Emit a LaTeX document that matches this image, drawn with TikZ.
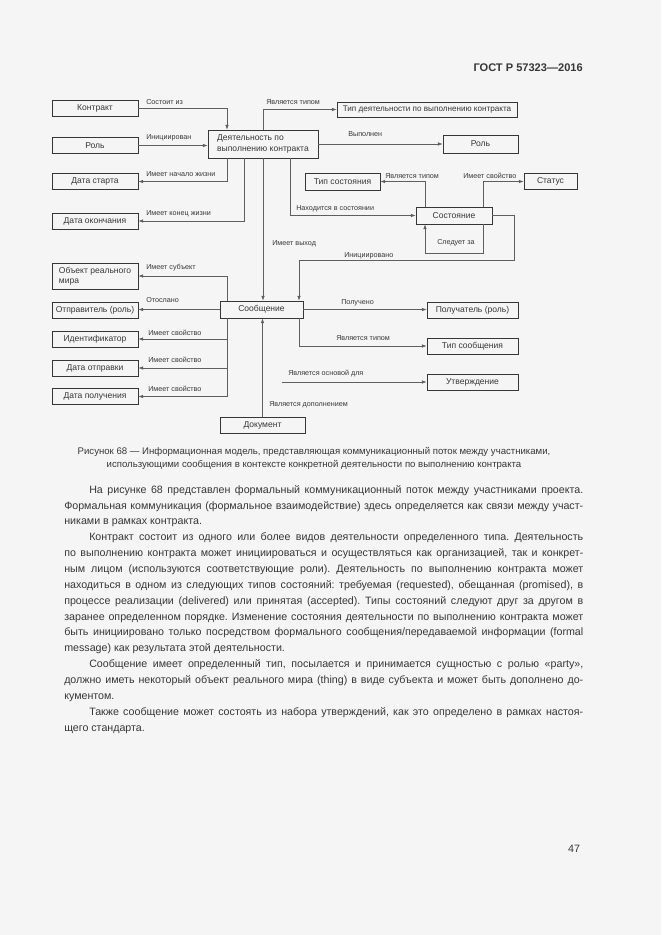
\documentclass[tikz,border=0pt]{standalone}
\usepackage{fontspec}
\setmainfont{Liberation Sans}
\usetikzlibrary{arrows.meta}
\definecolor{paper}{RGB}{245,245,245}
\definecolor{ink}{RGB}{55,55,55}
\definecolor{wire}{RGB}{95,95,95}
\frenchspacing
\tikzset{
  box/.style={draw=ink, line width=0.6pt, text=ink, inner sep=0pt, font=\fontsize{6.4}{7.7}\selectfont},
  lbox/.style={box, minimum width=64.5pt, minimum height=12pt},
  rbox/.style={box, minimum width=68.25pt, minimum height=12pt},
  link/.style={draw=wire, line width=0.45pt, -{Latex[length=3.5pt,width=2.6pt]}},
  lbl/.style={anchor=west, inner sep=0pt, text=ink, font=\fontsize{5.4}{6.4}\selectfont},
  txt/.style={inner sep=0pt, text=ink},
}
\begin{document}
\begin{tikzpicture}[x=0.75pt,y=0.75pt,yscale=-1,xscale=1]
        \fill[paper] (0,0) rectangle (661,935);
        \useasboundingbox (0,0) rectangle (661,935);
        % page head
        \node[txt, anchor=east, font=\fontsize{8.3}{10}\selectfont\bfseries] (gost) at (583,68) {ГОСТ Р 57323—2016};
        % columns and rows for the bends
        \coordinate (c1) at (227,0);
        \coordinate (c2) at (244,0);
        \coordinate (c3) at (263,0);
        \coordinate (c4) at (290,0);
        \coordinate (c5) at (299,0);
        \coordinate (c6) at (425,0);
        \coordinate (c7) at (483,0);
        \coordinate (c8) at (514,0);
        \coordinate (r1) at (0,253);
        \coordinate (r2) at (0,260);
        \coordinate (osn) at (282,382);
        % boxes
        \node[lbox] (kontrakt) at (95,108) {Контракт};
        \node[lbox] (rolL) at (95,145.5) {Роль};
        \node[lbox] (start) at (95,181.5) {Дата старта};
        \node[lbox] (konets) at (95,221) {Дата окончания};
        \node[lbox, minimum height=19.5pt, align=left] (obj) at (95,276) {Объект реального\\мира};
        \node[lbox] (otpr) at (95,310) {Отправитель (роль)};
        \node[lbox] (ident) at (95,339) {Идентификатор};
        \node[lbox] (otpravka) at (95,368) {Дата отправки};
        \node[lbox] (poluchenie) at (95,396.5) {Дата получения};
        \node[box, minimum width=82.5pt, minimum height=21pt, align=left] (dejat) at (263,144) {Деятельность по\\выполнению контракта};
        \node[box, minimum width=135pt, minimum height=11.25pt, font=\fontsize{6.1}{7.3}\selectfont] (tipdejat) at (427,109.5) {Тип деятельности по выполнению контракта};
        \node[box, minimum width=56.25pt, minimum height=13.5pt] (rolR) at (480.5,144) {Роль};
        \node[box, minimum width=56.25pt, minimum height=12.75pt] (tipsost) at (342.5,181.5) {Тип состояния};
        \node[box, minimum width=39.75pt, minimum height=12pt] (status) at (550.5,181.5) {Статус};
        \node[box, minimum width=57pt, minimum height=12.75pt] (sost) at (454,215.5) {Состояние};
        \node[box, minimum width=62.25pt, minimum height=12.75pt] (soob) at (261.5,309.5) {Сообщение};
        \node[box, minimum width=63.75pt, minimum height=12pt] (dokument) at (262.5,425) {Документ};
        \node[rbox] (poluch) at (472.5,310) {Получатель (роль)};
        \node[rbox] (tipsoob) at (472.5,346) {Тип сообщения};
        \node[rbox] (utv) at (472.5,382) {Утверждение};
        % connectors
        \draw[link] (kontrakt.east) -| (c1 |- dejat.north);
        \draw[link] (rolL.east) -- (rolL.east -| dejat.west);
        \draw[link] (c1 |- dejat.south) |- (start.east);
        \draw[link] (c2 |- dejat.south) |- (konets.east);
        \draw[link] (c3 |- dejat.north) |- (tipdejat.west);
        \draw[link] (c3 |- dejat.south) -- (c3 |- soob.north);
        \draw[link] (dejat.east) -- (dejat.east -| rolR.west);
        \draw[link] (c4 |- dejat.south) |- (sost.west);
        \draw[link] (c6 |- sost.north) |- (tipsost.east);
        \draw[link] (c7 |- sost.north) |- (status.west);
        \draw[link] (c7 |- sost.south) -- (c7 |- r1) -| (c6 |- sost.south);
        \draw[link] (sost.east) -| (c8 |- r2) -| (c5 |- soob.north);
        \draw[link] (c1 |- soob.north) |- (obj.east);
        \draw[link] (soob.west) -- (soob.west -| otpr.east);
        \draw[link] (c1 |- soob.south) |- (ident.east);
        \draw[link] (c1 |- soob.south) |- (otpravka.east);
        \draw[link] (c1 |- soob.south) |- (poluchenie.east);
        \draw[link] (dokument.north) -- (dokument.north |- soob.south);
        \draw[link] (soob.east) -- (soob.east -| poluch.west);
        \draw[link] (c5 |- soob.south) |- (tipsoob.west);
        \draw[link] (osn) -- (utv.west);
        % connector labels
        \node[lbl] (l1) at (146,102) {Состоит из};
        \node[lbl] (l2) at (146,138) {Инициирован};
        \node[lbl] (l3) at (146,174) {Имеет начало жизни};
        \node[lbl] (l4) at (146,214) {Имеет конец жизни};
        \node[lbl] (l5) at (266,102) {Является типом};
        \node[lbl] (l6) at (348,134) {Выполнен};
        \node[lbl] (l7) at (385,176) {Является типом};
        \node[lbl] (l8) at (463,176) {Имеет свойство};
        \node[lbl] (l9) at (296,209) {Находится в состоянии};
        \node[lbl] (l10) at (272,244) {Имеет выход};
        \node[lbl] (l11) at (437,243) {Следует за};
        \node[lbl] (l12) at (344,256) {Инициировано};
        \node[lbl] (l13) at (146,268) {Имеет субъект};
        \node[lbl] (l14) at (146,300) {Отослано};
        \node[lbl] (l15) at (148,333) {Имеет свойство};
        \node[lbl] (l16) at (148,360) {Имеет свойство};
        \node[lbl] (l17) at (148,389) {Имеет свойство};
        \node[lbl] (l18) at (341,303) {Получено};
        \node[lbl] (l19) at (336,338) {Является типом};
        \node[lbl] (l20) at (288,374) {Является основой для};
        \node[lbl] (l21) at (269,405) {Является дополнением};
        % caption
        \node[txt, align=center, font=\fontsize{7.2}{9.8}\selectfont] (caption) at (314,458)
          {Рисунок 68 — Информационная модель, представляющая коммуникационный поток между участниками,\\
           использующими сообщения в контексте конкретной деятельности по выполнению контракта};
        % body text
        \node[txt, anchor=north west, text width=389.25pt, align=justify, font=\fontsize{8}{11.9}\selectfont] (body) at (64,485)
          {\hspace*{18.75pt}На рисунке 68 представлен формальный коммуникационный поток между участниками проекта.\linebreak
           Формальная коммуникация (формальное взаимодействие) здесь определяется как связи между участ-\linebreak
           никами в рамках контракта.\\
           \hspace*{18.75pt}Контракт состоит из одного или более видов деятельности определенного типа. Деятельность\linebreak
           по выполнению контракта может инициироваться и осуществляться как организацией, так и конкрет-\linebreak
           ным лицом (используются соответствующие роли). Деятельность по выполнению контракта может\linebreak
           находиться в одном из следующих типов состояний: требуемая (requested), обещанная (promised), в\linebreak
           процессе реализации (delivered) или принятая (accepted). Типы состояний следуют друг за другом в\linebreak
           заранее определенном порядке. Изменение состояния деятельности по выполнению контракта может\linebreak
           быть инициировано только посредством формального сообщения/передаваемой информации (formal\linebreak
           message) как результата этой деятельности.\\
           \hspace*{18.75pt}Сообщение имеет определенный тип, посылается и принимается сущностью с ролью «party»,\linebreak
           должно иметь некоторый объект реального мира (thing) в виде субъекта и может быть дополнено до-\linebreak
           кументом.\\
           \hspace*{18.75pt}Также сообщение может состоять из набора утверждений, как это определено в рамках настоя-\linebreak
           щего стандарта.};
        % page number
        \node[txt, font=\fontsize{8}{10}\selectfont] (page) at (574,849) {47};
\end{tikzpicture}
\end{document}
